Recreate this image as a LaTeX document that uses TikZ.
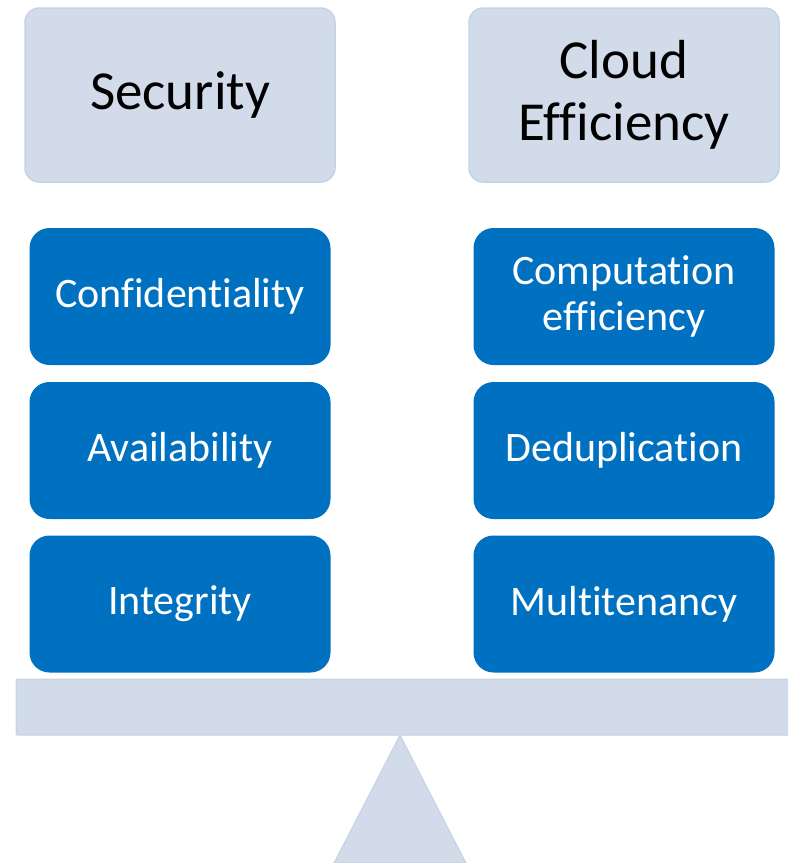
\documentclass[tikz,border=0pt]{standalone}
\usepackage{fontspec}
\setmainfont{Carlito}[RawFeature={-liga;-clig;-dlig;-calt}]
\definecolor{paleblue}{HTML}{D1DBEA}
\definecolor{paleedge}{HTML}{C6D2E6}
\definecolor{deepblue}{HTML}{0070C0}

\begin{document}
\begin{tikzpicture}[x=1pt,y=-1pt,
    head/.style={draw=paleedge,line width=1.5pt,fill=paleblue,rounded corners=14pt,
      minimum width=310pt,minimum height=174pt,align=center,
      font=\fontsize{55}{62}\selectfont},
    item/.style={fill=deepblue,text=white,rounded corners=20pt,
      minimum width=301pt,minimum height=137pt,align=center,
      font=\fontsize{42}{46}\selectfont}]
    \useasboundingbox (0,0) rectangle (788,863);
    % the two pans
    \node[head] (sec) at (180,95) {Security};
    \node[head] (eff) at (624,95) {Cloud\\Efficiency};
    % weights on the left
    \node[item] (conf) at (180,296.5) {Confidentiality};
    \node[item] (avail) at (180,450.5) {Availability};
    \node[item] (integ) at (180,604) {Integrity};
    % weights on the right
    \node[item] (comp) at (624,296.5) {Computation\\efficiency};
    \node[item] (dedup) at (624,450.5) {Deduplication};
    \node[item] (multi) at (624,604) {Multitenancy};
    % beam and pivot
    \begin{scope}
    \clip (0,0) rectangle (788,863);
    \draw[paleedge,fill=paleblue,line width=1pt,rounded corners=1pt] (16,679) rectangle (792,735);
    \draw[paleedge,fill=paleblue,line width=1pt] (400,735) -- (466,863) -- (334,863) -- cycle;
    \end{scope}
  \end{tikzpicture}
\end{document}
